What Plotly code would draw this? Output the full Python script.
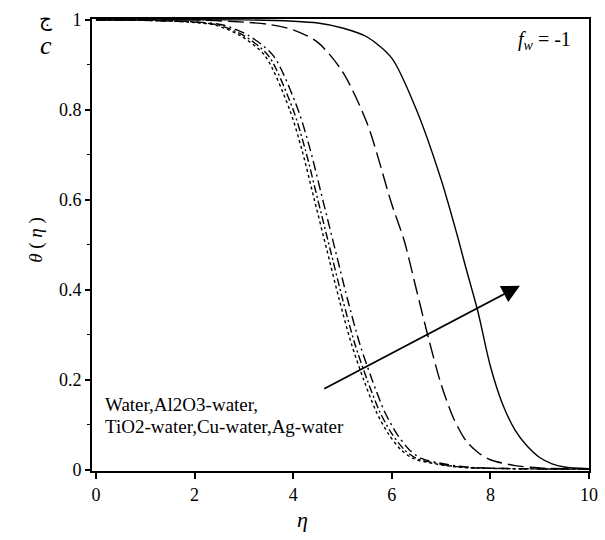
import plotly.graph_objects as go

# ---- data ----
theta_cluster = [1, 0.999, 0.995, 0.988, 0.965, 0.92, 0.80, 0.71, 0.60, 0.49, 0.38,
                 0.28, 0.20, 0.13, 0.08, 0.045, 0.025, 0.012, 0.005, 0.001]
eta_water = [0, 0.93, 1.93, 2.43, 2.93, 3.43, 3.93, 4.18, 4.43, 4.68, 4.93, 5.18,
             5.43, 5.68, 5.93, 6.18, 6.43, 6.93, 7.43, 10]
eta_al2o3 = [0, 1.0, 2.0, 2.5, 3.0, 3.5, 4.0, 4.25, 4.5, 4.75, 5.0, 5.25,
             5.5, 5.75, 6.0, 6.25, 6.5, 7.0, 7.5, 10]
eta_tio2 = [0, 1.1, 2.1, 2.6, 3.1, 3.6, 4.1, 4.35, 4.6, 4.85, 5.1, 5.35,
            5.6, 5.85, 6.1, 6.35, 6.6, 7.1, 7.6, 10]

eta_cu = [0, 2, 3, 3.5, 4.0, 4.5, 5.0, 5.5, 6.0, 6.25, 6.5, 6.75, 7.0, 7.25,
          7.5, 7.75, 8.0, 8.5, 9.0, 10]
theta_cu = [1, 1, 0.995, 0.99, 0.978, 0.95, 0.885, 0.77, 0.59, 0.51, 0.40, 0.29,
            0.19, 0.115, 0.065, 0.038, 0.022, 0.009, 0.004, 0.001]

eta_ag = [0, 3, 4, 4.5, 5.0, 5.5, 6.0, 6.5, 7.0, 7.33, 7.5, 7.75, 8.0, 8.25, 8.5,
          8.75, 9.0, 9.25, 9.5, 10]
theta_ag = [1, 1, 0.997, 0.993, 0.982, 0.962, 0.915, 0.80, 0.645, 0.52, 0.45, 0.35,
            0.23, 0.145, 0.088, 0.052, 0.027, 0.013, 0.006, 0.002]

x_ticks = [0, 2, 4, 6, 8, 10]
y_ticks = [0, 0.2, 0.4, 0.6, 0.8, 1]
y_tick_text = ["0", "0.2", "0.4", "0.6", "0.8", "1"]

arrow_start = (4.6, 0.178)
arrow_end = (8.6, 0.409)

FONT = "Liberation Serif"

fig = go.Figure()
series = [
    (eta_water, theta_cluster, "dot", "Water"),
    (eta_al2o3, theta_cluster, "8px,3px,2px,3px", "Al2O3-water"),
    (eta_tio2, theta_cluster, "10px,4px,2px,4px", "TiO2-water"),
    (eta_cu, theta_cu, "16px,6px", "Cu-water"),
    (eta_ag, theta_ag, "solid", "Ag-water"),
]
for ex, th, dash, name in series:
    fig.add_trace(go.Scatter(x=ex, y=th, mode="lines", name=name,
                             line=dict(color="black", width=1.4, dash=dash, shape="spline", smoothing=0.8)))

fig.add_annotation(x=arrow_end[0], y=arrow_end[1], ax=arrow_start[0], ay=arrow_start[1],
                   xref="x", yref="y", axref="x", ayref="y", showarrow=True, text="",
                   arrowhead=2, arrowsize=2, arrowwidth=1.8, arrowcolor="black")

fig.add_annotation(x=0.14, y=0.145, xref="x", yref="y", xanchor="left", yanchor="middle",
                   text="Water,Al2O3-water,", showarrow=False,
                   font=dict(family=FONT, size=19, color="black"))
fig.add_annotation(x=0.14, y=0.096, xref="x", yref="y", xanchor="left", yanchor="middle",
                   text="TiO2-water,Cu-water,Ag-water", showarrow=False,
                   font=dict(family=FONT, size=19, color="black"))
fig.add_annotation(x=9.1, y=0.955, xref="x", yref="y", xanchor="center", yanchor="middle",
                   text="<i>f</i><sub><i>w</i></sub> = -1", showarrow=False,
                   font=dict(family=FONT, size=20, color="black"))

fig.add_annotation(x=-0.113, y=0.511, xref="paper", yref="paper", textangle=-90,
                   xanchor="center", yanchor="middle",
                   text="<i>θ</i> ( <i>η</i> )", showarrow=False,
                   font=dict(family=FONT, size=19, color="black"))
fig.add_annotation(x=0.423, y=-0.108, xref="paper", yref="paper",
                   xanchor="center", yanchor="middle",
                   text="<i>η</i>", showarrow=False,
                   font=dict(family=FONT, size=22, color="black"))
fig.add_annotation(x=-0.093, y=1.0, xref="paper", yref="paper",
                   xanchor="center", yanchor="middle",
                   text="ج", showarrow=False,
                   font=dict(family="DejaVu Serif", size=20, color="black"))
fig.add_annotation(x=-0.093, y=0.942, xref="paper", yref="paper",
                   xanchor="center", yanchor="middle",
                   text="<i>c</i>", showarrow=False,
                   font=dict(family=FONT, size=26, color="black"))

fig.update_layout(
    width=605, height=540, autosize=False,
    margin=dict(l=92, r=7, t=19, b=69),
    plot_bgcolor="white", paper_bgcolor="white",
    showlegend=False,
)
fig.update_xaxes(range=[-0.08, 10.0], tickvals=x_ticks, ticks="outside", ticklen=6,
                 tickwidth=1.5, tickcolor="black", showgrid=False, zeroline=False,
                 showline=True, linecolor="black", linewidth=2, mirror=True,
                 ticklabeloverflow="allow",
                 tickfont=dict(family=FONT, size=18, color="black"))
fig.update_yaxes(range=[-0.003, 1.002], tickvals=y_ticks, ticktext=y_tick_text,
                 ticks="outside", ticklen=5, tickwidth=1.5, tickcolor="black",
                 showgrid=False, zeroline=False, showline=True, linecolor="black",
                 linewidth=2, mirror=True,
                 minor=dict(tickvals=[0.1, 0.3, 0.5, 0.7, 0.9], ticks="outside", ticklen=3,
                            tickcolor="black", tickwidth=1),
                 tickfont=dict(family=FONT, size=18, color="black"))

fig.write_html(
    "out.html",
    config={"responsive": False, "displayModeBar": False},
    post_script=("document.documentElement.style.overflow='hidden';"
                 "document.body.style.overflow='hidden';"
                 "document.body.style.margin='0px';"),
)
